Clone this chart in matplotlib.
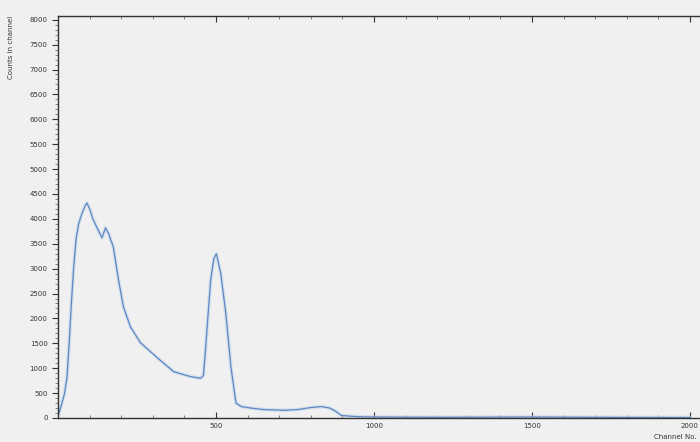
import matplotlib
matplotlib.use("Agg")
import matplotlib.pyplot as plt
from matplotlib.ticker import MultipleLocator

channels = [0, 10, 20, 28, 35, 42, 49, 57, 65, 75, 85, 91, 100, 110, 125, 139, 150, 160,
            175, 191, 207, 229, 261, 314, 366, 420, 451, 460, 467, 475, 483, 493, 501,
            508, 515, 531, 547, 563, 580, 610, 650, 715, 760, 800, 833, 860, 880, 897,
            950, 1000, 1200, 1500, 1800, 2000]
counts = [50, 250, 480, 800, 1500, 2300, 3000, 3600, 3900, 4100, 4250, 4320, 4200, 4000,
          3800, 3620, 3820, 3700, 3430, 2780, 2230, 1830, 1510, 1210, 930, 830, 800, 850,
          1400, 2100, 2770, 3200, 3300, 3100, 2900, 2100, 1030, 300, 230, 200, 170, 155,
          170, 210, 230, 200, 130, 50, 25, 20, 15, 20, 12, 10]

x_ticks = [500, 1000, 1500, 2000]
y_ticks = list(range(0, 8001, 500))

fig = plt.figure(figsize=(7.0, 4.42), dpi=100)
fig.patch.set_facecolor('#f0f0f0')
ax = fig.add_axes([0.083, 0.0543, 0.917, 0.9095])
ax.set_facecolor('#f0f0f0')

ax.plot(channels, counts, color='#bcd2ec', lw=2.6, alpha=0.55, solid_capstyle='round')
ax.plot(channels, counts, color='#5f88c0', lw=0.9)

ax.set_xlim(0, 2032)
ax.set_ylim(0, 8075)
ax.set_xticks(x_ticks)
ax.set_yticks(y_ticks)
ax.xaxis.set_minor_locator(MultipleLocator(100))
ax.yaxis.set_minor_locator(MultipleLocator(100))
ax.tick_params(axis='both', which='major', labelsize=5, colors='#333333', length=4, width=0.8)
ax.tick_params(axis='both', which='minor', length=2, width=0.5, colors='#555555')
ax.tick_params(top=True, which='both', direction='in')
ax.tick_params(axis='x', which='both', bottom=True, direction='in')
ax.tick_params(axis='y', which='both', direction='out')

for side in ['left', 'bottom', 'top']:
    ax.spines[side].set_color('#333333')
    ax.spines[side].set_linewidth(1.0)
ax.spines['right'].set_visible(False)

fig.text(0.012, 0.965, 'Counts in channel', rotation=90, fontsize=5, color='#333333',
         ha='left', va='top')
fig.text(0.995, 0.005, 'Channel No.', fontsize=5, color='#333333', ha='right', va='bottom')

fig.savefig('out.png', dpi=100, facecolor=fig.get_facecolor())
